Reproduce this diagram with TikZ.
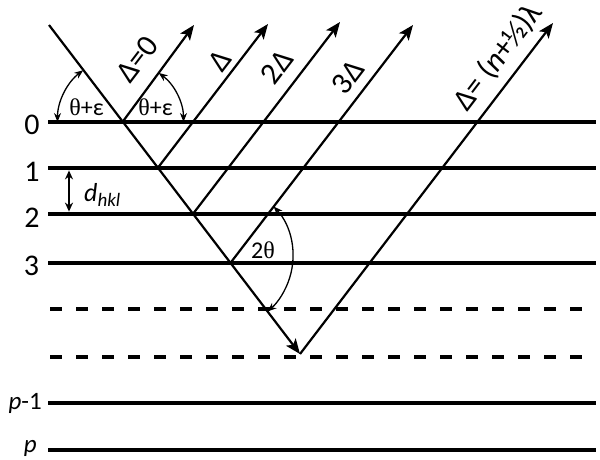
\documentclass[tikz,border=0pt]{standalone}
\usepackage{fontspec}
\setmainfont{Carlito}
\newfontfamily\grk{Liberation Serif}
\usetikzlibrary{arrows.meta}
\begin{document}
\begin{tikzpicture}[x=1pt,y=-1pt,
  lattice/.style={line width=4.4pt},
  dashlattice/.style={line width=4.6pt,dash pattern=on 12pt off 14pt},
  beam/.style={line width=2.2pt},
  beamarrow/.style={beam,-{Stealth[length=15pt,width=12pt,inset=3.5pt]}},
  anglearc/.style={line width=1.3pt,{Stealth[length=9pt,width=7pt]}-{Stealth[length=9pt,width=7pt]}},
  darrow/.style={line width=2pt,{Stealth[length=9pt,width=8pt]}-{Stealth[length=9pt,width=8pt]}},
  layerlabel/.style={font=\fontsize{30}{30}\selectfont,inner sep=0pt},
  plabel/.style={font=\fontsize{25}{25}\selectfont,inner sep=0pt},
  beamlabel/.style={font=\fontsize{31}{31}\selectfont,inner sep=0pt,rotate=52.6},
  anglelabel/.style={font=\fontsize{24}{24}\selectfont,inner sep=0pt},
]
\useasboundingbox (0,0) rectangle (600,459);
% lattice planes
\foreach \n/\y in {0/122,1/168,2/214,3/263,pm/403,p/450}{
  \coordinate (L\n a) at (48,\y);
  \coordinate (L\n b) at (596,\y);
  \draw[lattice] (L\n a) -- (L\n b);
}
\foreach \n/\y in {a/309,b/357}{
  \coordinate (D\n a) at (50,\y);
  \coordinate (D\n b) at (582,\y);
  \draw[dashlattice] (D\n a) -- (D\n b);
}
% layer labels
\node[layerlabel,anchor=base] (n0) at (32,134.5) {0};
\node[layerlabel,anchor=base] (n1) at (32,181.5) {1};
\node[layerlabel,anchor=base] (n2) at (32,227.5) {2};
\node[layerlabel,anchor=base] (n3) at (31.5,275.5) {3};
\node[plabel,anchor=base east] (npm) at (42,409) {{\itshape p}-1};
\node[plabel,anchor=base east] (np) at (37,452) {\itshape p};
% beams
\coordinate (S) at (49,25);
\coordinate (A) at (300,354);
\coordinate (X0) at (122.5,122);
\coordinate (X1) at (157.7,168);
\coordinate (X2) at (192.9,214);
\coordinate (X3) at (230.4,263);
\coordinate (T0) at (194,25);
\coordinate (T1) at (268,24);
\coordinate (T2) at (340,22);
\coordinate (T3) at (413,25);
\coordinate (T4) at (553,23);
\draw[beamarrow] (S) -- (A);
\draw[beamarrow] (X0) -- (T0);
\draw[beamarrow] (X1) -- (T1);
\draw[beamarrow] (X2) -- (T2);
\draw[beamarrow] (X3) -- (T3);
\draw[beamarrow] (A) -- (T4);
% beam labels
\node[beamlabel] (b0) at (137,59) {Δ=0};
\node[beamlabel] (b1) at (220,61) {Δ};
\node[beamlabel] (b2) at (277,67) {2Δ};
\node[beamlabel] (b3) at (348,77) {3Δ};
\node[beamlabel] (b4) at (498,57) {Δ= ({\itshape n}+½)λ};
% angle arcs
\draw[anglearc] (X0) ++(180:65) arc[start angle=180,end angle=232.8,radius=65];
\draw[anglearc] (X0) ++(0:61) arc[start angle=0,end angle=-53.6,radius=61];
\node[anglelabel] (e1) at (86.5,107.5) {{\grk θ}+ε};
\node[anglelabel] (e2) at (155.5,107.5) {{\grk θ}+ε};
\coordinate (O2) at (220,256);
\draw[anglearc] (O2) ++(-42.7:73) arc[start angle=-42.7,end angle=49.4,radius=73];
\node[anglelabel] (tt) at (263,250) {2{\grk θ}};
% d_hkl
\coordinate (Da) at (69,170.4);
\coordinate (Db) at (69,211.6);
\draw[darrow] (Da) -- (Db);
\node[inner sep=0pt,anchor=base west] (dh) at (84,201)
  {{\fontsize{26}{26}\selectfont\itshape d}{\fontsize{19}{19}\selectfont\itshape\raisebox{-5pt}{hkl}}};
\end{tikzpicture}
\end{document}
